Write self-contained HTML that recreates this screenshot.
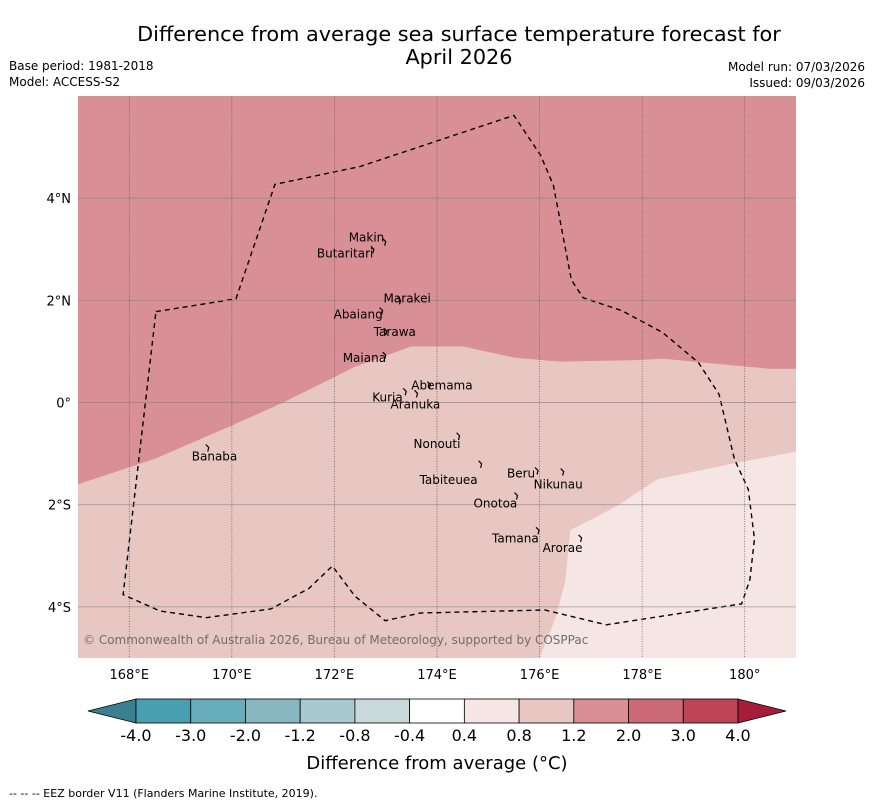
<!DOCTYPE html>
<html><head><meta charset="utf-8"><style>
body{margin:0;background:#fff;font-family:"Liberation Sans","DejaVu Sans",sans-serif}
svg text{font-family:"DejaVu Sans","Liberation Sans",sans-serif}
</style></head><body>
<svg id="c" width="873" height="804" viewBox="0 0 873 804"></svg>
<script>
const lonTicks=[168,170,172,174,176,178,180];
const lonLabels=["168°E","170°E","172°E","174°E","176°E","178°E","180°"];
const latTicks=[4,2,0,-2,-4];
const latLabels=["4°N","2°N","0°","2°S","4°S"];
const cbLevels=["-4.0","-3.0","-2.0","-1.2","-0.8","-0.4","0.4","0.8","1.2","2.0","3.0","4.0"];
const cbColors=["#3a808e","#479fb0","#67adbb","#88b7c1","#a8c9cd","#c8d8db","#ffffff","#f5e6e4","#e8c6c1","#d88f96","#cb6a76","#bf4454","#a61d3c"];
const zoneBoundLon=[167,168.5,170,171,172.4,173.5,174.5,175.5,176.4,177.9,178.4,179,180.5,181];
const zoneBoundLat=[-1.6,-1.1,-0.45,0,0.7,1.1,1.1,0.88,0.8,0.83,0.86,0.8,0.66,0.66];
const lowBoundLon=[176,176.3,176.5,176.6,177.5,178.3,180,181];
const lowBoundLat=[-5,-4.25,-3.5,-2.5,-2.03,-1.5,-1.15,-0.96];
const eezLon=[168.52,170.08,170.84,172.5,175.5,176.02,176.27,176.62,176.85,177.6,178.4,179.1,179.5,179.8,180.07,180.19,180.1,179.94,177.3,176.1,173.67,172.99,172.4,171.96,171.5,170.76,169.5,168.6,167.88,168.52];
const eezLat=[1.78,2.03,4.27,4.62,5.62,4.84,4.25,2.4,2.05,1.8,1.37,0.78,0.16,-1.11,-1.7,-2.67,-3.47,-3.94,-4.35,-4.06,-4.12,-4.27,-3.79,-3.2,-3.64,-4.04,-4.21,-4.08,-3.76,1.78];
const islandNames=["Makin","Butaritari","Marakei","Abaiang","Tarawa","Maiana","Abemama","Kuria","Aranuka","Nonouti","Banaba","Tabiteuea","Beru","Nikunau","Onotoa","Tamana","Arorae"];
const islandLon=[172.98,172.75,173.27,172.92,173.0,172.98,173.85,173.38,173.6,174.42,169.53,174.85,175.95,176.45,175.55,175.97,176.8];
const islandLat=[3.15,3.0,2.0,1.8,1.4,0.93,0.35,0.22,0.18,-0.65,-0.88,-1.2,-1.33,-1.35,-1.82,-2.5,-2.65];
const labelDx=[-36,-56,-16,-48,-12,-42,-18,-33,-26,-45,-16,-61,-30,-29,-43,-46,-38];
const labelDy=[0,8,2,8,5,7,5,10,15,12,13,20,7,17,12,12,14];

const S=document.getElementById('c');const NS='http://www.w3.org/2000/svg';
const X0=78,X1=796,Y0=96,Y1=658,L0=167,L1=181,A0=6,A1=-5;
const px=l=>X0+(l-L0)/(L1-L0)*(X1-X0);
const py=a=>Y0+(A0-a)/(A0-A1)*(Y1-Y0);
function el(t,at,p){const e=document.createElementNS(NS,t);for(const k in at)e.setAttribute(k,at[k]);(p||S).appendChild(e);return e;}
function txt(s,x,y,sz,anc,fill){const e=el('text',{x:x,y:y,'font-size':sz,'text-anchor':anc||'start',fill:fill||'#000'});e.textContent=s;return e;}

let t=txt("Difference from average sea surface temperature forecast for",459,41,20.8,'middle');

t=txt("April 2026",459,64,20.8,'middle');

t=txt("Base period: 1981-2018",9,70,12);
t=txt("Model: ACCESS-S2",9,86,12);
t=txt("Model run: 07/03/2026",865,71,12,'end');
t=txt("Issued: 09/03/2026",865,87,12,'end');

const defs=el('defs',{});const cp=el('clipPath',{id:'clip'},defs);el('rect',{x:X0,y:Y0,width:X1-X0,height:Y1-Y0},cp);
const g=el('g',{'clip-path':'url(#clip)'});

let r=el('rect',{x:X0,y:Y0,width:X1-X0,height:Y1-Y0,fill:cbColors[9]},g);

let pts=zoneBoundLon.map((l,i)=>px(l)+','+py(zoneBoundLat[i])).join(' ')+` ${X1},${Y1} ${X0},${Y1}`;
let p=el('polygon',{points:pts,fill:cbColors[8]},g);

pts=lowBoundLon.map((l,i)=>px(l)+','+py(lowBoundLat[i])).join(' ')+` ${X1},${Y1}`;
p=el('polygon',{points:pts,fill:cbColors[7]},g);


latTicks.forEach((a,i)=>{
 const l=el('line',{x1:X0,x2:X1,y1:py(a),y2:py(a),stroke:'#888','stroke-width':0.8,opacity:0.8});
 
 const tt=txt(latLabels[i],71,py(a)+5,13,'end');
 
});
lonTicks.forEach((lo,i)=>{
 const l=el('line',{x1:px(lo),x2:px(lo),y1:Y0,y2:Y1,stroke:'#555','stroke-width':0.7,'stroke-dasharray':'1,1.5'});
 
 const tt=txt(lonLabels[i],px(lo),679,13,'middle');
 
});

p=el('polyline',{points:eezLon.map((l,i)=>px(l)+','+py(eezLat[i])).join(' '),fill:'none',stroke:'#000','stroke-width':1.4,'stroke-dasharray':'5,4'},g);


islandNames.forEach((n,i)=>{
 const x=px(islandLon[i]),y=py(islandLat[i]);
 const m=el('path',{d:`M${x-2},${y-3} l3,3 l-1,4`,stroke:'#000','stroke-width':1.2,fill:'none'});
 
 const tt=txt(n,x+labelDx[i],y+labelDy[i],12);
 
});
t=txt("© Commonwealth of Australia 2026, Bureau of Meteorology, supported by COSPPac",83,644,12,'start','#6f6f6f');


const cbX0=136,cbX1=738,cbY=699,cbH=24,n=cbLevels.length-1,w=(cbX1-cbX0)/n;
let tri=el('polygon',{points:`${cbX0},${cbY} ${cbX0},${cbY+cbH} 88,${cbY+cbH/2}`,fill:cbColors[0],stroke:'#000','stroke-width':0.8});

for(let i=0;i<n;i++){
 const b=el('rect',{x:cbX0+i*w,y:cbY,width:w,height:cbH,fill:cbColors[i+1],stroke:'#000','stroke-width':0.8});
 
}
tri=el('polygon',{points:`${cbX1},${cbY} ${cbX1},${cbY+cbH} 786,${cbY+cbH/2}`,fill:cbColors[12],stroke:'#000','stroke-width':0.8});

cbLevels.forEach((s,i)=>{const tt=txt(s,cbX0+i*w,741,16,'middle');
 });
t=txt("Difference from average (°C)",437,769,18,'middle');

t=txt("--  --  -- EEZ border V11 (Flanders Marine Institute, 2019).",9,797,11);

</script>
</body></html>
